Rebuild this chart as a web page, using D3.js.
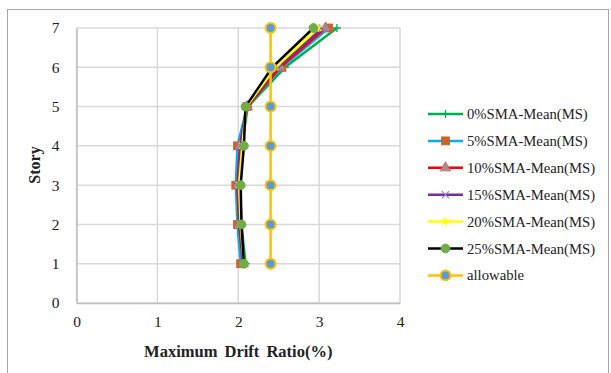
<!DOCTYPE html>
<html>
<head>
<meta charset="utf-8">
<script src="https://cdn.jsdelivr.net/npm/d3@7"></script>
<style>
  html, body { margin: 0; padding: 0; background: #fff; }
  svg { display: block; }
  text { font-family: "Liberation Serif", "Times New Roman", serif; fill: #222; }
</style>
</head>
<body>
<svg id="chart" width="611" height="373"></svg>
<script>
// Story levels (y) and maximum drift ratio (%) per series (x)
const stories = [1, 2, 3, 4, 5, 6, 7];
const sma0  = [2.09, 2.04, 2.02, 2.04, 2.12, 2.58, 3.22];
const sma5  = [2.03, 1.99, 1.97, 1.99, 2.11, 2.54, 3.12];
const sma10 = [2.06, 2.01, 1.99, 2.02, 2.11, 2.52, 3.08];
const sma15 = [2.06, 2.02, 2.00, 2.03, 2.10, 2.49, 3.04];
const sma20 = [2.07, 2.03, 2.01, 2.05, 2.10, 2.46, 2.99];
const sma25 = [2.07, 2.04, 2.03, 2.07, 2.09, 2.42, 2.93];
const allowable = [2.4, 2.4, 2.4, 2.4, 2.4, 2.4, 2.4];

const seriesNames = [
  "0%SMA-Mean(MS)", "5%SMA-Mean(MS)", "10%SMA-Mean(MS)", "15%SMA-Mean(MS)",
  "20%SMA-Mean(MS)", "25%SMA-Mean(MS)", "allowable"
];
const xTicks = [0, 1, 2, 3, 4];
const yTicks = [0, 1, 2, 3, 4, 5, 6, 7];

const styles = [
  { line: "#00b050", marker: "plus",     fill: "none",    stroke: "#00b050" },
  { line: "#00b0f0", marker: "square",   fill: "#c8642a", stroke: "#c8642a" },
  { line: "#ff0000", marker: "triangle", fill: "#a09090", stroke: "#e05050" },
  { line: "#7030a0", marker: "cross",    fill: "none",    stroke: "#9b7fd0" },
  { line: "#ffff00", marker: "star",     fill: "none",    stroke: "#ffff00" },
  { line: "#000000", marker: "circle",   fill: "#70ad47", stroke: "#70ad47" },
  { line: "#ffc000", marker: "circle",   fill: "#5b9bd5", stroke: "#ffc000" }
];
const seriesValues = [sma0, sma5, sma10, sma15, sma20, sma25, allowable];

const svg = d3.select("#chart");

// outer frame
svg.append("rect")
  .attr("x", 7.5).attr("y", 9.5).attr("width", 601).attr("height", 372)
  .attr("fill", "none").attr("stroke", "#a6a6a6").attr("stroke-width", 1);

const plot = { left: 76.5, right: 400, top: 28, bottom: 303 };
const x = d3.scaleLinear().domain([0, 4]).range([plot.left, plot.right]);
const y = d3.scaleLinear().domain([0, 7]).range([plot.bottom, plot.top]);

// gridlines
svg.append("g").selectAll("line.h").data(yTicks).join("line")
  .attr("x1", plot.left).attr("x2", plot.right)
  .attr("y1", d => y(d)).attr("y2", d => y(d))
  .attr("stroke", "#d9d9d9").attr("stroke-width", 1.5);
svg.append("g").selectAll("line.v").data(xTicks).join("line")
  .attr("x1", d => x(d)).attr("x2", d => x(d))
  .attr("y1", plot.top).attr("y2", plot.bottom)
  .attr("stroke", "#d9d9d9").attr("stroke-width", 1.5);

// axes
const xAxis = d3.axisBottom(x).tickValues(xTicks).tickSize(0).tickPadding(13).tickFormat(d3.format("d"));
const yAxis = d3.axisLeft(y).tickValues(yTicks).tickSize(0).tickPadding(17).tickFormat(d3.format("d"));
const gx = svg.append("g").attr("transform", `translate(0,${plot.bottom})`).call(xAxis);
const gy = svg.append("g").attr("transform", `translate(${plot.left},0)`).call(yAxis);
[gx, gy].forEach(g => {
  g.select(".domain").attr("stroke", "#bfbfbf").attr("stroke-width", 1.5);
  g.selectAll("text").attr("font-family", "Liberation Serif").attr("font-size", 15.5).attr("fill", "#333");
});

svg.append("text")
  .attr("x", (plot.left + plot.right) / 2 + 0).attr("y", 357)
  .attr("text-anchor", "middle").attr("font-size", 16.5).attr("font-weight", "bold")
  .attr("word-spacing", 3)
  .text("Maximum Drift Ratio(%)");
svg.append("text")
  .attr("transform", "translate(40,165) rotate(-90)")
  .attr("text-anchor", "middle").attr("font-size", 16).attr("font-weight", "bold")
  .text("Story");

// marker drawing
function drawMarker(g, type, st, size) {
  const s = size;
  if (type === "circle") {
    g.append("circle").attr("r", s * 0.55).attr("fill", st.fill)
      .attr("stroke", st.stroke).attr("stroke-width", st.stroke === st.fill ? 1 : 2);
  } else if (type === "square") {
    g.append("rect").attr("x", -s / 2).attr("y", -s / 2).attr("width", s).attr("height", s)
      .attr("fill", st.fill).attr("stroke", st.stroke).attr("stroke-width", 0.8);
  } else if (type === "triangle") {
    g.append("path").attr("d", d3.symbol(d3.symbolTriangle, s * s * 0.75)())
      .attr("fill", st.fill).attr("stroke", st.stroke).attr("stroke-width", 0.8);
  } else if (type === "plus") {
    g.append("path").attr("d", `M${-s/2},0H${s/2}M0,${-s/2}V${s/2}`)
      .attr("stroke", st.stroke).attr("stroke-width", 1.3);
  } else if (type === "cross") {
    const h = s * 0.45;
    g.append("path").attr("d", `M${-h},${-h}L${h},${h}M${-h},${h}L${h},${-h}`)
      .attr("stroke", st.stroke).attr("stroke-width", 1.2);
  } else if (type === "star") {
    const h = s * 0.5, k = s * 0.38;
    g.append("path").attr("d", `M0,${-h}V${h}M${-k},${-k}L${k},${k}M${-k},${k}L${k},${-k}`)
      .attr("stroke", st.stroke).attr("stroke-width", 1.2);
  }
}

const line = d3.line().x(d => x(d[0])).y(d => y(d[1]));

seriesValues.forEach((vals, i) => {
  const st = styles[i];
  const pts = vals.map((v, j) => [v, stories[j]]);
  const g = svg.append("g");
  g.append("path").datum(pts).attr("d", line)
    .attr("fill", "none").attr("stroke", st.line).attr("stroke-width", 2.5);
  pts.forEach(p => {
    const mg = g.append("g").attr("transform", `translate(${x(p[0])},${y(p[1])})`);
    drawMarker(mg, st.marker, st, i === 6 ? 9 : 8);
  });
});

// legend
const legend = svg.append("g");
seriesNames.forEach((name, i) => {
  const st = styles[i];
  const ly = 114 + i * 26.9;
  const item = legend.append("g").attr("transform", `translate(0,${ly})`);
  item.append("line").attr("x1", 428).attr("x2", 463).attr("y1", 0).attr("y2", 0)
    .attr("stroke", st.line).attr("stroke-width", 2.5);
  const mg = item.append("g").attr("transform", "translate(445.5,0)");
  drawMarker(mg, st.marker, st, i === 6 ? 9 : 8);
  item.append("text").attr("x", 467).attr("y", 5).attr("font-size", 14.7).text(name);
});
</script>
</body>
</html>
